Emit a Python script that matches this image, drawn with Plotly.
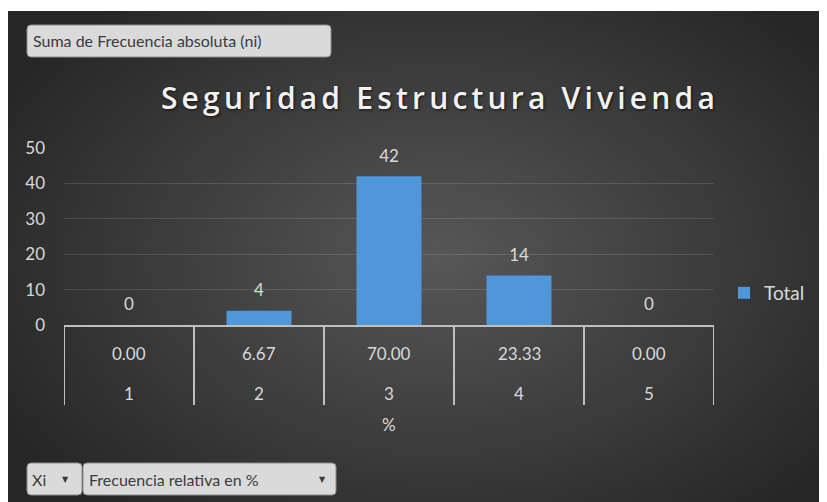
import base64
import struct
import zlib

import plotly.graph_objects as go

# chart data
xi_labels = ['1', '2', '3', '4', '5']
pct_labels = ['0.00', '6.67', '70.00', '23.33', '0.00']
frecuencia = [0, 4, 42, 14, 0]

# the page body adds an 8px margin, so the figure is drawn 8px smaller
OFF = 8
W, H = 827 - OFF, 502 - OFF
# plot area in page pixels
PL, PR, PT, PB = 64, 714, 148, 325


def px(x):
    return (x - PL) / (PR - PL)


def py(y):
    return (PB - y) / (PB - PT)


def radial_png(w=166, h=100):
    """small radial gradient used as the dark chart background"""
    rows = []
    cx, cy = 0.52 * w, 0.50 * h
    for j in range(h):
        row = bytearray([0])
        for i in range(w):
            d = (((i - cx) / (0.62 * w)) ** 2 + ((j - cy) / (0.70 * h)) ** 2) ** 0.5
            t = max(0.0, 1.0 - d)
            v = int(38 + (88 - 38) * t)
            row += bytes([v, v, v])
        rows.append(bytes(row))
    raw = b''.join(rows)

    def chunk(tag, data):
        c = tag + data
        return struct.pack('>I', len(data)) + c + struct.pack('>I', zlib.crc32(c) & 0xffffffff)

    png = b'\x89PNG\r\n\x1a\n'
    png += chunk(b'IHDR', struct.pack('>IIBBBBB', w, h, 8, 2, 0, 0, 0))
    png += chunk(b'IDAT', zlib.compress(raw, 9))
    png += chunk(b'IEND', b'')
    return 'data:image/png;base64,' + base64.b64encode(png).decode()


fig = go.Figure()

fig.add_trace(
    go.Bar(
        x=xi_labels,
        y=frecuencia,
        name='Total',
        marker=dict(color='#5097da', line=dict(width=0)),
        width=0.5,
        hoverinfo='skip',
    )
)

# data labels above the bars
fig.add_trace(
    go.Scatter(
        x=xi_labels,
        y=frecuencia,
        mode='markers+text',
        text=[str(v) for v in frecuencia],
        textposition='top center',
        textfont=dict(family='Lato', size=17, color='#d9d9d9'),
        marker=dict(size=15, color='rgba(0,0,0,0)'),
        showlegend=False,
        hoverinfo='skip',
        cliponaxis=False,
    )
)


def rounded_rect(x0, y0, x1, y1, r=4):
    """rounded rectangle path in paper coords from page pixel corners"""
    pts = [
        f'M {px(x0 + r)},{py(y0)}',
        f'L {px(x1 - r)},{py(y0)}',
        f'Q {px(x1)},{py(y0)} {px(x1)},{py(y0 + r)}',
        f'L {px(x1)},{py(y1 - r)}',
        f'Q {px(x1)},{py(y1)} {px(x1 - r)},{py(y1)}',
        f'L {px(x0 + r)},{py(y1)}',
        f'Q {px(x0)},{py(y1)} {px(x0)},{py(y1 - r)}',
        f'L {px(x0)},{py(y0 + r)}',
        f'Q {px(x0)},{py(y0)} {px(x0 + r)},{py(y0)} Z',
    ]
    return dict(type='path', xref='paper', yref='paper', path=' '.join(pts),
                fillcolor='#dadada', line=dict(color='#8c8c8c', width=1), layer='above')


shapes = [
    rounded_rect(27, 25, 331, 57),
    rounded_rect(27, 463, 82, 495),
    rounded_rect(83, 463, 336, 495),
]

# category axis dividers (one between every category and at both ends)
for i in range(len(xi_labels) + 1):
    shapes.append(dict(
        type='line', xref='x', yref='paper',
        x0=i - 0.5, x1=i - 0.5, y0=py(325), y1=py(405),
        line=dict(color='#bfbfbf', width=2), layer='above',
    ))

# two-level category labels under the axis (index position on the category axis)
axis_font = dict(family='Lato', size=17, color='#d9d9d9')
annotations = []
for i, (xi, pct) in enumerate(zip(xi_labels, pct_labels)):
    annotations.append(dict(text=pct, x=i, xref='x', y=py(353), yref='paper',
                            yanchor='middle', font=axis_font))
    annotations.append(dict(text=xi, x=i, xref='x', y=py(393), yref='paper',
                            yanchor='middle', font=axis_font))
annotations.append(dict(text='%', x=px(389), xref='paper', y=py(424), yref='paper',
                        yanchor='middle', font=axis_font))

btn_font = dict(family='Lato', size=16, color='#3a3a3a')
arrow_font = dict(family='DejaVu Sans', size=8, color='#3a3a3a')
annotations += [
    dict(text='Suma de Frecuencia absoluta (ni)', x=px(31), y=py(41),
         xanchor='left', yanchor='middle', font=btn_font, xref='paper', yref='paper'),
    dict(text='Xi', x=px(30), y=py(479), xanchor='left', yanchor='middle',
         font=btn_font, xref='paper', yref='paper'),
    dict(text='▼', x=px(65), y=py(479), xanchor='center', yanchor='middle',
         font=arrow_font, xref='paper', yref='paper'),
    dict(text='Frecuencia relativa en %', x=px(87), y=py(479), xanchor='left',
         yanchor='middle', font=btn_font, xref='paper', yref='paper'),
    dict(text='▼', x=px(322), y=py(479), xanchor='center', yanchor='middle',
         font=arrow_font, xref='paper', yref='paper'),
]
for a in annotations:
    a.update(showarrow=False)

fig.update_layout(
    width=W,
    height=H,
    margin=dict(l=PL - OFF, r=827 - PR, t=PT - OFF, b=502 - PB, pad=0),
    paper_bgcolor='white',
    plot_bgcolor='rgba(0,0,0,0)',
    font=dict(family='Lato', color='#d9d9d9', size=15),
    title=dict(
        text='Seguridad Estructura Vivienda',
        x=(440 - OFF) / W, xanchor='center',
        y=1 - (98 - OFF) / H, yanchor='middle',
        font=dict(family='Open Sans', size=30, weight=600, color='#f2f2f2',
                  shadow='1px 1px 3px rgba(0,0,0,0.7)'),
    ),
    images=[dict(
        source=radial_png(),
        xref='paper', yref='paper',
        x=px(8), y=py(11),
        sizex=px(827) - px(8), sizey=py(11) - py(502),
        xanchor='left', yanchor='top',
        sizing='stretch', layer='below',
    )],
    shapes=shapes,
    annotations=annotations,
    showlegend=True,
    legend=dict(
        x=px(724), y=py(293), xanchor='left', yanchor='middle',
        font=dict(family='Lato', size=19, color='#d9d9d9'),
        bgcolor='rgba(0,0,0,0)', itemwidth=30,
    ),
    xaxis=dict(
        type='category',
        range=[-0.5, len(xi_labels) - 0.5],
        showline=True, linecolor='#bfbfbf', linewidth=2,
        showticklabels=False, ticks='', showgrid=False,
        fixedrange=True,
    ),
    yaxis=dict(
        range=[0, 50], dtick=10,
        showgrid=True, gridcolor='rgba(255,255,255,0.13)', gridwidth=1,
        zeroline=False, showline=False,
        tickfont=dict(family='Lato', size=17, color='#d9d9d9'),
        ticklabelstandoff=18,
        fixedrange=True,
    ),
)

# Excel-like spacing between title letters
fig.write_html(
    'out.html',
    post_script="document.querySelectorAll('.gtitle').forEach(function(e){e.style.letterSpacing='4.2px';});",
)
